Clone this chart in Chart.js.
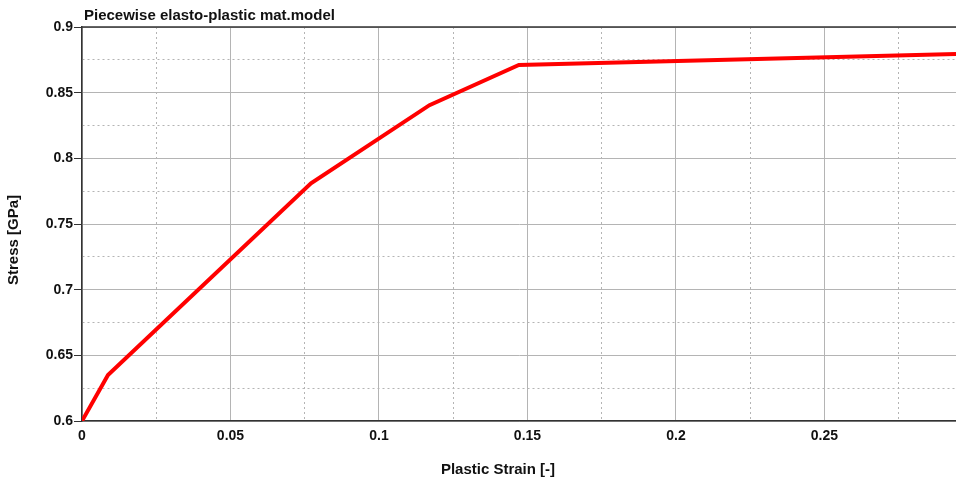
<!DOCTYPE html>
<html>
<head>
<meta charset="utf-8">
<script src="https://cdn.jsdelivr.net/npm/chart.js@4.4.0/dist/chart.umd.min.js"></script>
<style>
  body { margin: 0; background: #fff; }
  #wrap { width: 956px; height: 485px; position: relative; }
</style>
</head>
<body>
<div id="wrap"><canvas id="myChart"></canvas></div>
<script>
// data
const strain = [0, 0.00875, 0.0771, 0.117, 0.1471, 0.2943];
const stress = [0.6, 0.635, 0.781, 0.8405, 0.8711, 0.8795];

const xTicks = [0, 0.025, 0.05, 0.075, 0.1, 0.125, 0.15, 0.175, 0.2, 0.225, 0.25, 0.275];
const yTicks = [0.6, 0.625, 0.65, 0.675, 0.7, 0.725, 0.75, 0.775, 0.8, 0.825, 0.85, 0.875, 0.9];

const titleText = 'Piecewise elasto-plastic mat.model';
const xTitle = 'Plastic Strain [-]';
const yTitle = 'Stress [GPa]';

const FAMILY = '"Liberation Sans", Arial, sans-serif';
const TITLE_FONT = 'bold 15px ' + FAMILY;

// major = multiple of 0.05, minor = the dotted ones in between
const isMajor = (v) => Math.round(v / 0.025) % 2 === 0;

// texts + top frame line drawn by hand
const extras = {
  id: 'extras',
  afterDraw(chart) {
    const ctx = chart.ctx;
    const a = chart.chartArea;
    ctx.save();
    ctx.strokeStyle = '#333';
    ctx.lineWidth = 1.5;
    ctx.beginPath();
    ctx.moveTo(a.left, a.top);
    ctx.lineTo(a.right, a.top);
    ctx.stroke();

    ctx.fillStyle = '#111';
    ctx.font = TITLE_FONT;
    ctx.textAlign = 'left';
    ctx.textBaseline = 'alphabetic';
    ctx.fillText(titleText, a.left + 2, 20);

    ctx.textAlign = 'center';
    ctx.textBaseline = 'middle';
    ctx.fillText(xTitle, 498, 470);

    ctx.translate(14, 240);
    ctx.rotate(-Math.PI / 2);
    ctx.fillText(yTitle, 0, 0);
    ctx.restore();
  }
};

const ctx = document.getElementById('myChart').getContext('2d');
new Chart(ctx, {
  type: 'line',
  data: {
    datasets: [{
      data: strain.map((s, i) => ({ x: s, y: stress[i] })),
      borderColor: '#ff0000',
      borderWidth: 4,
      pointRadius: 0,
      tension: 0,
      fill: false
    }]
  },
  options: {
    responsive: true,
    maintainAspectRatio: false,
    animation: false,
    layout: { padding: { top: 27, right: 0, left: 0, bottom: 0 } },
    plugins: {
      legend: { display: false },
      title: { display: false },
      tooltip: { enabled: false }
    },
    scales: {
      x: {
        type: 'linear',
        min: 0,
        max: 0.2943,
        afterBuildTicks: (scale) => { scale.ticks = xTicks.map(v => ({ value: v })); },
        afterFit: (scale) => { scale.height = 64; },
        ticks: {
          color: '#111',
          font: { family: FAMILY, size: 14, weight: 'bold' },
          padding: 3,
          maxRotation: 0,
          autoSkip: false,
          callback: (v) => isMajor(v) ? String(+v.toFixed(3)) : ''
        },
        grid: {
          color: '#b4b4b4',
          lineWidth: 1,
          tickLength: 4,
          tickColor: 'transparent'
        },
        border: {
          color: '#333',
          width: 1.5,
          dash: (c) => (c.tick && !isMajor(c.tick.value)) ? [2, 3] : []
        }
      },
      y: {
        type: 'linear',
        min: 0.6,
        max: 0.9,
        afterBuildTicks: (scale) => { scale.ticks = yTicks.map(v => ({ value: v })); },
        afterFit: (scale) => { scale.width = 82; },
        ticks: {
          color: '#111',
          font: { family: FAMILY, size: 14, weight: 'bold' },
          padding: 1,
          autoSkip: false,
          callback: (v) => isMajor(v) ? String(+v.toFixed(3)) : ''
        },
        grid: {
          color: '#b4b4b4',
          lineWidth: 1,
          tickLength: 8,
          tickColor: (c) => (c.tick && isMajor(c.tick.value)) ? '#333' : 'transparent'
        },
        border: {
          color: '#333',
          width: 1.5,
          dash: (c) => (c.tick && !isMajor(c.tick.value)) ? [2, 3] : []
        }
      }
    }
  },
  plugins: [extras]
});
</script>
</body>
</html>
